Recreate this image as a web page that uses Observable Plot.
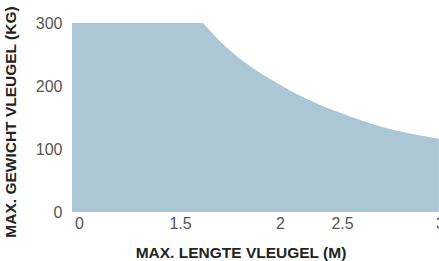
<!DOCTYPE html>
<html>
<head>
<meta charset="utf-8">
<script src="https://cdn.jsdelivr.net/npm/d3@7"></script>
<script src="https://cdn.jsdelivr.net/npm/@observablehq/plot@0.6"></script>
<style>
  html, body { margin: 0; padding: 0; background: #fff; }
  svg { display: block; }
</style>
</head>
<body>
<div id="chart"></div>
<script>
// Data
const lengths = [0, 1.65, 1.76, 1.885, 2.06, 2.30, 2.53, 2.69, 2.86, 3.03];
const weights = [300, 300, 263.5, 231.7, 201.7, 177, 157, 139.7, 126, 116.3];
const xTicks = [0, 1.5, 2, 2.5, 3];
const yTicks = [0, 100, 200, 300];
const xTitle = "MAX. LENGTE VLEUGEL (M)";
const yTitle = "MAX. GEWICHT VLEUGEL (KG)";

const rows = lengths.map((x, i) => ({x, y: weights[i]}));
const cornerIndex = 1;
const flat = rows.slice(0, cornerIndex + 1);
const curve = rows.slice(cornerIndex);

const fill = "#abc7d5";
const font = "'Liberation Sans', Arial, Helvetica, sans-serif";

const chart = Plot.plot({
  width: 439,
  height: 261,
  marginLeft: 72,
  marginRight: 0,
  marginTop: 23,
  marginBottom: 49,
  style: {fontFamily: font, fontSize: "16px", color: "#555", background: "#fff"},
  x: {type: "linear", domain: [0, 1.5, 2, 2.5, 3], range: [72, 173, 273, 335, 433]},
  y: {domain: [0, 300]},
  marks: [
    Plot.areaY(flat, {x: "x", y: "y", fill, curve: "linear"}),
    Plot.areaY(curve, {x: "x", y: "y", fill, curve: "monotone-x"}),
    Plot.axisX({ticks: xTicks, tickSize: 0, tickPadding: 5, dx: 7, label: null, fill: "#555", fontSize: 16, tickFormat: d => String(d)}),
    Plot.axisY({ticks: yTicks, tickSize: 0, tickPadding: 10, label: null, fill: "#555", fontSize: 16, tickFormat: d => String(d)}),
    Plot.text([xTitle], {frameAnchor: "bottom", dy: 41, dx: -15, text: d => d, fontWeight: "bold", fontSize: 15.5, fill: "#222", textAnchor: "middle", lineAnchor: "middle"}),
    Plot.text([yTitle], {frameAnchor: "left", rotate: -90, dx: -61, dy: 4, text: d => d, fontWeight: "bold", fontSize: 15.5, fill: "#222", textAnchor: "middle", lineAnchor: "middle"})
  ]
});
document.getElementById("chart").appendChild(chart);
</script>
</body>
</html>
